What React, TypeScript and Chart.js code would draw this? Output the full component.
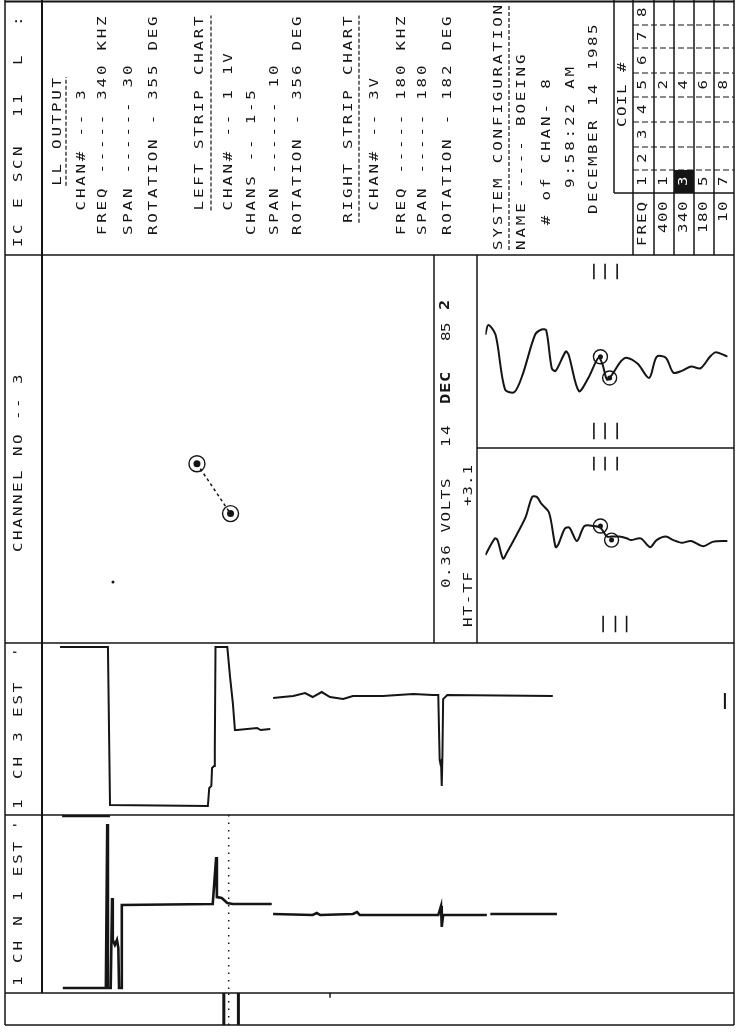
import React, { useEffect, useRef } from "react";
import { Chart, registerables } from "chart.js";

Chart.register(...registerables);

// ================= DATA =================
// Upper transfer-function window (time in % of sweep, amplitude in volts/div units)
const upperTime = [0, 1.2, 4.2, 8.1, 12.0, 15.4, 20.5, 23.2, 25.1, 27.4, 29.0, 33.2, 34.4, 38.6, 42.5, 46.7, 48.3, 50.2, 52.1, 56.0, 58.3, 62.9, 67.6, 70.7, 74.5, 77.6, 81.1, 84.9, 88.8, 92.7, 95.0, 98.5, 100];
const upperVolts = [0.19, 0.3, 0.19, -0.43, -0.46, -0.26, 0.19, 0.25, 0.24, -0.19, -0.22, 0.0, -0.04, -0.45, -0.3, -0.07, -0.14, -0.32, -0.27, -0.11, -0.07, -0.14, -0.3, -0.06, -0.07, -0.24, -0.22, -0.17, -0.19, -0.06, -0.01, -0.04, -0.06];
const upperMarkTime = [47.5, 51.3];
const upperMarkVolts = [-0.06, -0.3];
const upperCursorTime = [44.8, 49.4, 54.4];

// Lower transfer-function window
const lowerTime = [0, 3.9, 5.0, 7.3, 8.9, 12.7, 16.6, 19.3, 21.2, 23.2, 26.3, 29.0, 30.1, 32.8, 34.7, 37.8, 40.9, 44.8, 47.5, 50.2, 52.1, 55.2, 58.3, 60.2, 64.1, 68.0, 70.7, 74.5, 77.6, 81.1, 84.9, 90.0, 93.8, 100];
const lowerVolts = [-0.12, 0.07, 0.05, -0.16, -0.09, 0.1, 0.31, 0.54, 0.54, 0.46, 0.36, -0.03, 0.0, 0.18, 0.19, 0.04, 0.21, 0.21, 0.19, 0.09, 0.09, 0.09, 0.07, 0.05, 0.07, -0.03, 0.05, 0.09, 0.05, 0.02, 0.04, -0.02, 0.03, 0.04];
const lowerMarkTime = [47.5, 52.1];
const lowerMarkVolts = [0.21, 0.05];
const lowerTopCursorTime = [44.8, 49.4, 54.4];
const lowerBottomCursorTime = [48.6, 53.7, 58.3];

// Right strip chart (channel 3)
const rightStripTime = [2.6, 9.5, 9.8, 23.9, 24.1, 24.4, 24.5, 24.8, 24.9, 25.0, 26.7, 27.1, 27.5, 27.8, 28.1, 31.0, 31.5, 32.9, 33.1, 33.3, 34.7, 36.2, 37.9, 39.0, 40.3, 41.5, 43.4, 44.8, 49.1, 53.5, 56.3, 57.1, 57.3, 57.4, 57.5, 57.6, 57.7, 57.8, 58.4, 73.6];
const rightStripLevel = [9.77, 9.77, 0.58, 0.52, 1.57, 1.69, 2.73, 2.85, 3.78, 9.77, 9.77, 8.02, 6.51, 4.94, 4.94, 5.06, 4.94, 5.0, null, 6.8, 6.86, 6.92, 7.09, 6.86, 7.15, 6.86, 6.74, 6.92, 6.92, 7.03, 6.98, 6.98, 3.2, 3.0, 3.1, 1.69, 3.5, 6.74, 6.98, 6.92];
const rightStripMarkTime = [98.4, 98.4];
const rightStripMarkLevel = [7.09, 6.16];

// Left strip chart (channel 1)
const leftStripTime = [3.0, 9.2, 9.4, 9.5, 9.9, 10.1, 10.2, 10.5, 10.8, 11.0, 11.1, 11.4, 11.5, 24.6, 25.1, 25.2, 25.9, 26.7, 27.5, 33.1, 33.2, 33.3, 39.0, 39.6, 40.1, 44.8, 45.4, 45.8, 54.5, 57.1, 57.5, 57.6, 57.8, 64.1, 64.3, 64.6, 74.2];
const leftStripLevel = [0.28, 0.28, 9.49, 0.28, 0.28, 5.34, 2.98, 2.7, 2.98, 2.53, 0.28, 0.28, 4.94, 5.0, 7.64, 5.39, 5.34, 5.06, 5.0, 5.0, null, 4.44, 4.38, 4.49, 4.38, 4.44, 4.55, 4.38, 4.38, 4.38, 4.89, 3.71, 4.38, 4.38, null, 4.44, 4.44];
const leftStripSatTime = [2.9, 9.8];
const leftStripSatLevel = [10, 10];

const stripCursorTime = [26.9];
const bottomMarkerTime = [26.2, 28.3];
const bottomTickTime = [41.5];

// XY (impedance plane) scope
const scopeMarkX = [-0.22, -0.04];
const scopeMarkY = [-0.08, -0.35];
const scopeDotX = [-0.67];
const scopeDotY = [-0.72];

// Configuration table
const freqLabels = ["400", "340", "180", "10"];
const coilNumbers = ["1", "2", "3", "4", "5", "6", "7", "8"];
const coil1Channels = ["1", "3", "5", "7"];
const coil5Channels = ["2", "4", "6", "8"];
const activeChannel = "3";

// Text
const headerTitle = "IC E SCN  11  L  :";
const channelTitle = "CHANNEL NO -- 3";
const rightStripLabel = "CH 3 EST";
const leftStripLabel = "CH N 1 EST";
const outputLines = ["    LL OUTPUT", "  CHAN# -- 3", "FREQ ----- 340 KHZ", "SPAN ------ 30", "ROTATION - 355 DEG"];
const leftStripLines = ["  LEFT STRIP CHART", "  CHAN# -- 1 1V", "CHANS -- 1-5", "SPAN ------ 10", "ROTATION - 356 DEG"];
const rightStripLines = [" RIGHT STRIP CHART", "  CHAN# -- 3V", "FREQ ----- 180 KHZ", "SPAN ----- 180", "ROTATION - 182 DEG"];
const systemLines = ["SYSTEM CONFIGURATION", "NAME ---- BOEING", "  # of CHAN- 8", "     9:58:22 AM", "   DECEMBER 14 1985"];
const voltsLabel = "0.36 VOLTS";
const dateDay = "14";
const dateMonth = "DEC";
const dateYear = "85";
const pageLabel = "2";
const tfLabel = "HT-TF";
const phaseLabel = "+3.1";

// ================= STYLE / LAYOUT =================
const INK = "#151515";
const FONT = '13px "DejaVu Sans Mono"';
const BOLD = 'bold 14px "DejaVu Sans Mono"';

type Pt = { x: number; y: number | null };
const pts = (xs: number[], ys: (number | null)[]): Pt[] => xs.map((x, i) => ({ x, y: ys[i] }));

function trace(xs: number[], ys: (number | null)[], extra: any = {}) {
  return {
    data: pts(xs, ys),
    showLine: true,
    borderColor: INK,
    backgroundColor: INK,
    borderWidth: 2,
    pointRadius: 0,
    tension: 0,
    spanGaps: false,
    fill: false,
    ...extra,
  };
}

function vticks(ts: number[], y0: number, y1: number, extra: any = {}) {
  const data: Pt[] = [];
  ts.forEach((t) => {
    data.push({ x: t, y: y0 }, { x: t, y: y1 }, { x: t, y: null });
  });
  return { data, showLine: true, borderColor: INK, borderWidth: 1.6, pointRadius: 0, spanGaps: false, fill: false, ...extra };
}

function markers(xs: number[], ys: number[], r: number) {
  return {
    data: pts(xs, ys),
    showLine: false,
    pointRadius: r,
    pointStyle: "circle",
    pointBorderColor: INK,
    pointBackgroundColor: "rgba(0,0,0,0)",
    pointBorderWidth: 1.4,
  };
}

function dots(xs: number[], ys: number[], r: number) {
  return { data: pts(xs, ys), showLine: false, pointRadius: r, pointBorderWidth: 0, pointBackgroundColor: INK };
}

function scatterConfig(datasets: any[], xMin: number, xMax: number, yMin: number, yMax: number, plugins: any[] = []) {
  return {
    type: "scatter",
    data: { datasets },
    plugins,
    options: {
      responsive: false,
      maintainAspectRatio: false,
      animation: false,
      devicePixelRatio: 1,
      events: [],
      layout: { padding: 0 },
      plugins: { legend: { display: false }, tooltip: { enabled: false }, title: { display: false } },
      scales: {
        x: { type: "linear", display: false, min: xMin, max: xMax },
        y: { type: "linear", display: false, min: yMin, max: yMax },
      },
    },
  } as any;
}

// ---- frame drawing helpers ----
function seg(ctx: CanvasRenderingContext2D, x1: number, y1: number, x2: number, y2: number, w = 1.5, dash: number[] = []) {
  ctx.save();
  ctx.strokeStyle = INK;
  ctx.lineWidth = w;
  ctx.setLineDash(dash);
  ctx.beginPath();
  ctx.moveTo(x1, y1);
  ctx.lineTo(x2, y2);
  ctx.stroke();
  ctx.restore();
}

// vertical text reading bottom-to-top; y0 = bottom of first character
function vtext(ctx: CanvasRenderingContext2D, s: string, x: number, y0: number, adv: number, font = FONT, color = INK) {
  ctx.save();
  ctx.font = font;
  ctx.fillStyle = color;
  ctx.textAlign = "left";
  ctx.textBaseline = "middle";
  for (let i = 0; i < s.length; i++) {
    const ch = s[i];
    if (ch === " ") continue;
    ctx.save();
    ctx.translate(x, y0 - i * adv);
    ctx.rotate(-Math.PI / 2);
    ctx.scale(1.22, 1);
    ctx.fillText(ch, 0, 0);
    ctx.restore();
  }
  ctx.restore();
}

function underline(ctx: CanvasRenderingContext2D, s: string, x: number, y0: number, adv: number) {
  let first = 0;
  while (s[first] === " ") first++;
  seg(ctx, x, y0 - first * adv, x, y0 - s.length * adv + 2, 1.2, [4, 2]);
}

const framePlugin = {
  id: "frame",
  afterDraw(chart: any) {
    const ctx: CanvasRenderingContext2D = chart.ctx;
    // outer and panel lines
    seg(ctx, 5, 0, 5, 1025);
    seg(ctx, 5, 1.5, 734, 1.5, 2);
    seg(ctx, 734, 0, 734, 1025);
    seg(ctx, 5, 1025, 734, 1025);
    seg(ctx, 42, 0, 42, 993, 2);
    seg(ctx, 5, 255, 734, 255);
    seg(ctx, 5, 643, 734, 643);
    seg(ctx, 5, 815, 734, 815);
    seg(ctx, 5, 993, 734, 993);
    seg(ctx, 434, 255, 434, 643);
    seg(ctx, 477, 255, 477, 643);
    seg(ctx, 477, 448, 734, 448);

    // configuration table
    const colX = [633, 654, 674, 694, 714, 734];
    const rowY = [0, 25, 48, 73, 97, 122, 147, 170, 193];
    seg(ctx, 614, 0, 614, 193);
    seg(ctx, 614, 193, 734, 193);
    colX.slice(0, 5).forEach((x) => seg(ctx, x, 0, x, 255));
    rowY.slice(1, 8).forEach((y) => seg(ctx, 633, y, 734, y, 1.2, [6, 3]));
    ctx.fillStyle = INK;
    ctx.fillRect(674, 170, 20, 23);

    const adv = 11;
    const centerChar = (s: string, x: number, yc: number, color = INK) =>
      vtext(ctx, s, x, yc + (s.length * adv) / 2 - 1, adv, FONT, color);
    vtext(ctx, "COIL #", 623, 127, 11);
    vtext(ctx, "FREQ", 643, 200 + 4 * 11.5, 11.5);
    freqLabels.forEach((f, i) => vtext(ctx, f, 664 + i * 20, 200 + f.length * 11, 11));
    coilNumbers.forEach((c, i) => {
      const yc = (rowY[7 - i] + rowY[8 - i]) / 2;
      centerChar(c, 643, yc);
    });
    const coil1Y = (rowY[7] + rowY[8]) / 2;
    const coil5Y = (rowY[3] + rowY[4]) / 2;
    coil1Channels.forEach((c, i) => centerChar(c, 664 + i * 20, coil1Y, c === activeChannel ? "#ffffff" : INK));
    coil5Channels.forEach((c, i) => centerChar(c, 664 + i * 20, coil5Y, c === activeChannel ? "#ffffff" : INK));

    // header column
    vtext(ctx, headerTitle, 19, 247, 13);
    vtext(ctx, channelTitle, 19, 552, 12);
    vtext(ctx, "1", 19, 809, 12);
    vtext(ctx, rightStripLabel, 19, 779, 12.4);
    vtext(ctx, "'", 19, 657, 12);
    vtext(ctx, "1", 19, 986, 12);
    vtext(ctx, leftStripLabel, 19, 963, 12.4);
    vtext(ctx, "'", 19, 830, 12);

    // settings text
    const A = 12.3;
    const outX = [58, 82, 103, 129, 154];
    outputLines.forEach((s, i) => vtext(ctx, s, outX[i], 235, A));
    underline(ctx, outputLines[0], 66, 235, A);
    const lX = [200, 229, 252, 275, 298];
    leftStripLines.forEach((s, i) => vtext(ctx, s, lX[i], 235, A));
    underline(ctx, leftStripLines[0], 211, 235, A);
    const rX = [349, 375, 402, 423, 448];
    rightStripLines.forEach((s, i) => vtext(ctx, s, rX[i], 235, A));
    underline(ctx, rightStripLines[0], 359, 235, A);
    const sX = [499, 522, 547, 571, 594];
    systemLines.forEach((s, i) => vtext(ctx, s, sX[i], 250, i === 4 ? 12 : 12.4));
    underline(ctx, systemLines[0], 509, 250, 12.4);

    // waveform label column
    vtext(ctx, voltsLabel, 447, 588, 11.1);
    vtext(ctx, dateDay, 447, 447, 12);
    ctx.fillStyle = INK;
    vtext(ctx, dateMonth, 446, 404, 11, BOLD);
    vtext(ctx, dateYear, 447, 341, 9);
    vtext(ctx, pageLabel, 445, 310, 10, BOLD);
    vtext(ctx, tfLabel, 469, 627, 11.4);
    vtext(ctx, phaseLabel, 469, 506, 10.5);
  },
};

// ================= COMPONENTS =================
function ChartBox(props: { left: number; top: number; width: number; height: number; build: () => any }) {
  const { left, top, width, height, build } = props;
  const ref = useRef<HTMLCanvasElement | null>(null);
  useEffect(() => {
    if (!ref.current) return;
    const chart = new Chart(ref.current, build());
    return () => chart.destroy();
  }, []);
  return (
    <canvas
      ref={ref}
      width={width}
      height={height}
      style={{ position: "absolute", left, top, width, height, display: "block" }}
    />
  );
}

const buildFrame = () => scatterConfig([], 0, 736, 0, 1032, [framePlugin]);

const buildScope = () =>
  scatterConfig(
    [
      trace(scopeMarkX, scopeMarkY, { borderDash: [3, 3], borderWidth: 1.5 }),
      markers(scopeMarkX, scopeMarkY, 8),
      dots(scopeMarkX, scopeMarkY, 3.5),
      dots(scopeDotX, scopeDotY, 1.5),
    ],
    -1, 1, -1, 1
  );

const buildUpper = () =>
  scatterConfig(
    [
      trace(upperTime, upperVolts, { tension: 0.3, borderWidth: 2 }),
      markers(upperMarkTime, upperMarkVolts, 7),
      dots(upperMarkTime, upperMarkVolts, 2.5),
      vticks(upperCursorTime, 1, 0.82),
      vticks(upperCursorTime, -0.81, -1),
    ],
    0, 100, -1, 1
  );

const buildLower = () =>
  scatterConfig(
    [
      trace(lowerTime, lowerVolts, { tension: 0.3, borderWidth: 2 }),
      markers(lowerMarkTime, lowerMarkVolts, 7),
      dots(lowerMarkTime, lowerMarkVolts, 2.5),
      vticks(lowerTopCursorTime, 1, 0.84),
      vticks(lowerBottomCursorTime, -0.81, -1),
    ],
    0, 100, -1, 1
  );

const buildRightStrip = () =>
  scatterConfig(
    [
      trace(rightStripTime, rightStripLevel, { borderWidth: 2 }),
      trace(rightStripMarkTime, rightStripMarkLevel, { borderWidth: 2 }),
    ],
    0, 100, 0, 10
  );

const buildLeftStrip = () =>
  scatterConfig(
    [
      trace(leftStripTime, leftStripLevel, { borderWidth: 2.6 }),
      trace(leftStripSatTime, leftStripSatLevel, { borderWidth: 4.5, clip: false }),
      vticks(stripCursorTime, 10, 0, { borderDash: [1.5, 6], borderWidth: 1.5 }),
    ],
    0, 100, 0, 10
  );

const buildBottom = () =>
  scatterConfig(
    [
      vticks(bottomMarkerTime, 0, 1, { borderWidth: 3 }),
      vticks(stripCursorTime, 0, 1, { borderDash: [1.5, 6], borderWidth: 1.5 }),
      vticks(bottomTickTime, 1, 0.85, { borderWidth: 1.5 }),
    ],
    0, 100, 0, 1
  );

export default function App() {
  return (
    <div style={{ position: "absolute", left: 0, top: 0, width: 736, height: 1032, background: "#ffffff", overflow: "hidden" }}>
      <ChartBox left={0} top={0} width={736} height={1032} build={buildFrame} />
      <ChartBox left={42} top={255} width={392} height={388} build={buildScope} />
      <ChartBox left={477} top={255} width={259} height={193} build={buildUpper} />
      <ChartBox left={477} top={448} width={259} height={193} build={buildLower} />
      <ChartBox left={42} top={643} width={694} height={172} build={buildRightStrip} />
      <ChartBox left={42} top={815} width={694} height={178} build={buildLeftStrip} />
      <ChartBox left={42} top={993} width={694} height={32} build={buildBottom} />
    </div>
  );
}
